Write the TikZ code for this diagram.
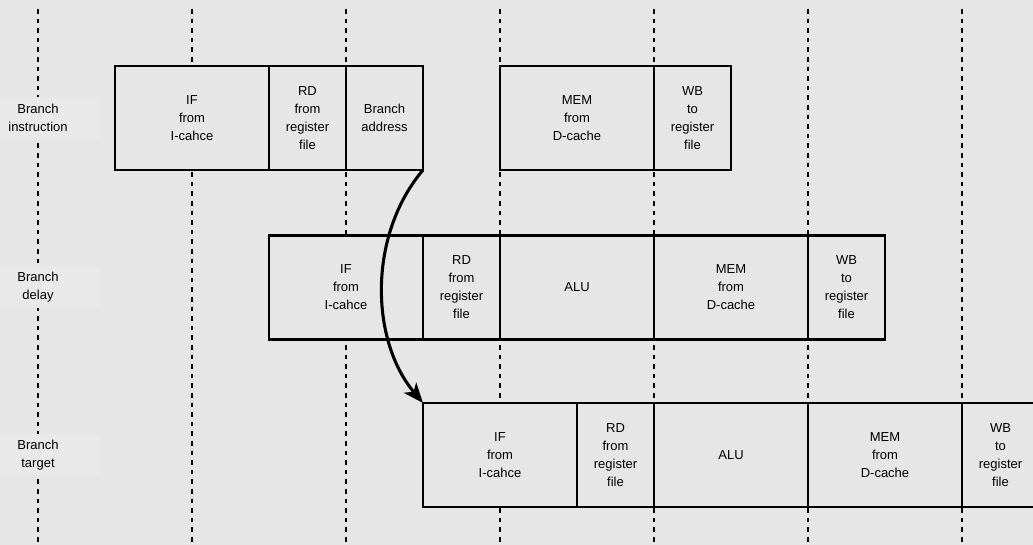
\documentclass[tikz,border=0pt]{standalone}
\usepackage{fontspec}
\setmainfont{Liberation Sans}
\usetikzlibrary{arrows.meta}
\definecolor{bg}{HTML}{E6E6E6}
\definecolor{lbl}{HTML}{E9E9E9}
\tikzset{
  x=0.75pt, y=-0.75pt,
  txt/.style={font=\fontsize{9.75}{13.5}\selectfont, align=center},
  stage/.style={txt, draw=black, line width=1.6pt, fill=bg, inner sep=0pt, outer sep=0pt, minimum height=78pt},
  wide/.style={stage, minimum width=115.5pt},
  narrow/.style={stage, minimum width=57.75pt},
  grid/.style={draw=black, line width=1.8pt, dash pattern=on 3.4pt off 3.8pt},
  labelbg/.style={fill=lbl},
  rowlabel/.style={txt, inner sep=0pt},
  jump/.style={draw=black, line width=2.3pt, -{Stealth[length=15pt,width=12pt,inset=4pt]}}
}
\begin{document}
\begin{tikzpicture}
\fill[bg] (0,0) rectangle (1033,545);
\useasboundingbox (0,0) rectangle (1033,545);
\clip (0,0) rectangle (1033,545);
% vertical dashed guides
\foreach \i/\xx in {0/38,1/192,2/346,3/500,4/654,5/808,6/962}{
  \coordinate (t\i) at (\xx,9);
  \coordinate (b\i) at (\xx,545);
  \draw[grid] (t\i) -- (b\i);
}
% row label backgrounds
\fill[labelbg] (0,97) rectangle (100,138);
\fill[labelbg] (0,266) rectangle (100,308);
\fill[labelbg] (0,434) rectangle (100,475);
% row labels
\node[rowlabel] (l1) at (38,118) {Branch\\instruction};
\node[rowlabel] (l2) at (38,287.5) {Branch\\delay};
\node[rowlabel] (l3) at (38,455) {Branch\\target};
% row 1: branch instruction
\node[wide]   (if1)  at (192,118)   {IF\\from\\I-cahce};
\node[narrow] (rd1)  at (307.5,118) {RD\\from\\register\\file};
\node[narrow] (ba1)  at (384.5,118) {Branch\\address};
\node[wide]   (mem1) at (577,118)   {MEM\\from\\D-cache};
\node[narrow] (wb1)  at (692.5,118) {WB\\to\\register\\file};
% row 2: branch delay
\node[wide]   (if2)  at (346,287.5)   {IF\\from\\I-cahce};
\node[narrow] (rd2)  at (461.5,287.5) {RD\\from\\register\\file};
\node[wide]   (alu2) at (577,287.5)   {ALU};
\node[wide]   (mem2) at (731,287.5)   {MEM\\from\\D-cache};
\node[narrow] (wb2)  at (846.5,287.5) {WB\\to\\register\\file};
% row 3: branch target
\node[wide]   (if3)  at (500,455)     {IF\\from\\I-cahce};
\node[narrow] (rd3)  at (615.5,455)   {RD\\from\\register\\file};
\node[wide]   (alu3) at (731,455)     {ALU};
\node[wide]   (mem3) at (885,455)     {MEM\\from\\D-cache};
\node[narrow] (wb3)  at (1000.5,455)  {WB\\to\\register\\file};
% branch arrow
\draw[jump] (ba1.south east) .. controls (368,235) and (370,340) .. (if3.north west);
\end{tikzpicture}
\end{document}
